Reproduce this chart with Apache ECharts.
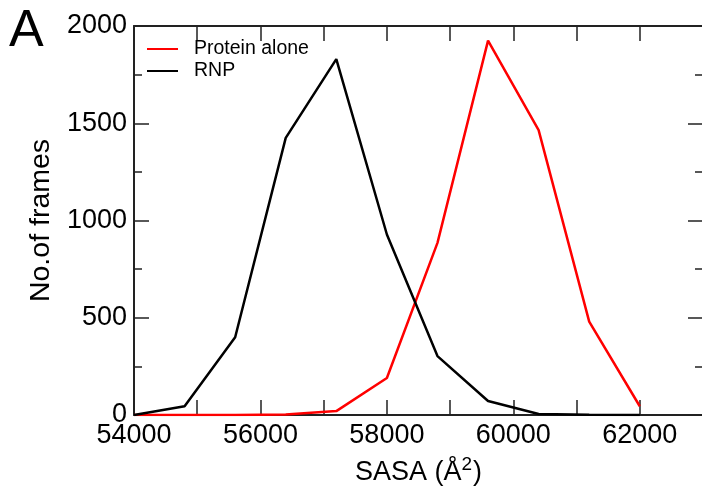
<!DOCTYPE html>
<html>
<head>
<meta charset="utf-8">
<script src="https://cdn.jsdelivr.net/npm/echarts@6/dist/echarts.min.js"></script>
<style>
html,body{margin:0;padding:0;background:#fff;}
#c{width:702px;height:492px;}
</style>
</head>
<body>
<div id="c"></div>
<script>
const sasa = [54000, 54800, 55600, 56400, 57200, 58000, 58800, 59600, 60400, 61200, 62000];
const proteinAlone = [0, 0, 0, 2, 20, 190, 885, 1925, 1465, 480, 45];
const rnp = [0, 45, 400, 1425, 1830, 928, 303, 72, 5, 1, 0];
const seriesNames = ['Protein alone', 'RNP'];
const xTickLabels = [54000, 56000, 58000, 60000, 62000];
const yTickLabels = [0, 500, 1000, 1500, 2000];

const FONT = 'Liberation Sans, Arial, Helvetica, sans-serif';
const AX = '#222';

const chart = echarts.init(document.getElementById('c'), null, {renderer: 'canvas'});
const axisCommon = {
  axisLine: {show: true, onZero: false, lineStyle: {color: AX, width: 2}},
  splitLine: {show: false},
};
chart.setOption({
  animation: false,
  backgroundColor: '#fff',
  grid: {left: 134, top: 26, height: 389, width: 569, containLabel: false, outerBoundsMode: 'none'},
  graphic: [{
    type: 'text', left: 9, top: 6,
    style: {text: 'A', font: '52px ' + FONT, fill: '#000'}
  }],
  legend: {
    orient: 'vertical', left: 147, top: 38, padding: 0,
    itemWidth: 31, itemHeight: 2, itemGap: 0, icon: 'rect',
    data: seriesNames,
    textStyle: {fontFamily: FONT, fontSize: 19.5, color: '#000', lineHeight: 22, padding: [0, 0, 0, 11]}
  },
  xAxis: [{
    ...axisCommon,
    type: 'value', min: 54000, max: 63000, interval: 1000, position: 'bottom',
    name: 'SASA (Å{s|2})', nameLocation: 'middle', nameGap: 40,
    nameTextStyle: {fontFamily: FONT, fontSize: 27, color: '#000',
      rich: {s: {fontFamily: FONT, fontSize: 19, verticalAlign: 'top', padding: [0, 1, 16, 0], color: '#000'}}},
    axisTick: {show: true, inside: true, length: 15, lineStyle: {color: AX, width: 1.5}},
    axisLabel: {margin: 7, fontFamily: FONT, fontSize: 27, color: '#000',
      formatter: v => xTickLabels.includes(v) ? String(v) : ''}
  }, {
    ...axisCommon,
    type: 'value', min: 54000, max: 63000, interval: 1000, position: 'top',
    axisTick: {show: true, inside: true, length: 15, lineStyle: {color: AX, width: 1.5}},
    axisLabel: {show: false}
  }],
  yAxis: [{
    ...axisCommon,
    type: 'value', min: 0, max: 2000, interval: 500, position: 'left',
    name: 'No.of frames', nameLocation: 'middle', nameGap: 66, nameRotate: 90,
    nameTextStyle: {fontFamily: FONT, fontSize: 28.5, color: '#000'},
    axisTick: {show: true, inside: true, length: 15, lineStyle: {color: AX, width: 1.5}},
    minorTick: {show: true, splitNumber: 2, length: 8, lineStyle: {color: AX, width: 1.5}},
    axisLabel: {margin: 7, fontFamily: FONT, fontSize: 27, color: '#000',
      formatter: v => yTickLabels.includes(v) ? String(v) : ''}
  }, {
    ...axisCommon,
    type: 'value', min: 0, max: 2000, interval: 500, position: 'right',
    axisTick: {show: true, inside: true, length: 15, lineStyle: {color: AX, width: 1.5}},
    minorTick: {show: true, splitNumber: 2, length: 8, lineStyle: {color: AX, width: 1.5}},
    axisLabel: {show: false}
  }],
  series: [{
    name: seriesNames[0], type: 'line', showSymbol: false, symbol: 'none',
    color: '#ff0000', lineStyle: {color: '#ff0000', width: 2.5},
    data: sasa.map((x, i) => [x, proteinAlone[i]])
  }, {
    name: seriesNames[1], type: 'line', showSymbol: false, symbol: 'none',
    color: '#000000', lineStyle: {color: '#000000', width: 2.5},
    data: sasa.map((x, i) => [x, rnp[i]])
  }]
});
</script>
</body>
</html>
